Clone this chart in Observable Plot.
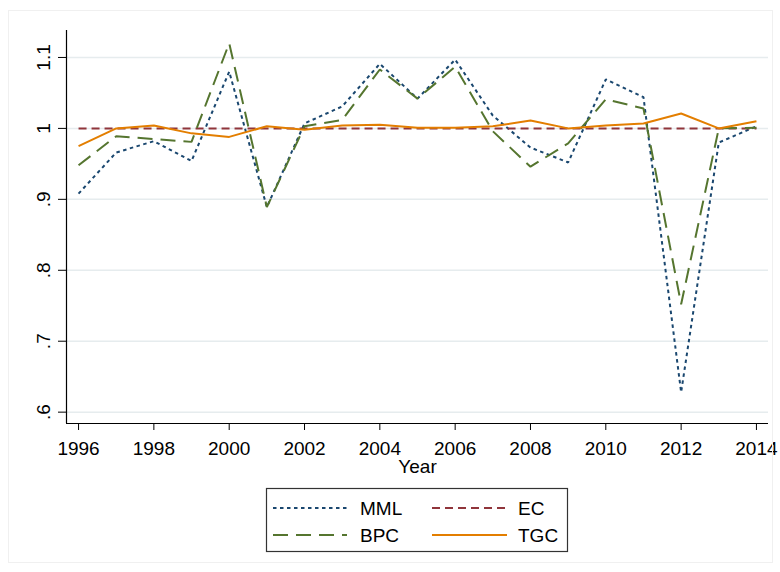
<!DOCTYPE html>
<html>
<head>
<meta charset="utf-8">
<script src="https://cdn.jsdelivr.net/npm/d3@7"></script>
<script src="https://cdn.jsdelivr.net/npm/@observablehq/plot@0.6"></script>
<style>
  body { margin: 0; background: #fff; font-family: "Liberation Sans", Arial, sans-serif; }
  #chart { position: relative; width: 780px; height: 572px; }
  #frame { position: absolute; left: 8px; top: 10px; width: 763px; height: 551px; border: 1px solid #f0f0f0; pointer-events: none; }
  #chart svg { display: block; }
</style>
</head>
<body>
<div id="chart"><div id="frame"></div></div>
<script>
// Annual indices, 1996–2014
const years = [1996, 1997, 1998, 1999, 2000, 2001, 2002, 2003, 2004, 2005, 2006, 2007, 2008, 2009, 2010, 2011, 2012, 2013, 2014];
const mml = [0.908, 0.966, 0.982, 0.954, 1.080, 0.889, 1.007, 1.031, 1.091, 1.042, 1.097, 1.018, 0.973, 0.952, 1.069, 1.044, 0.628, 0.980, 1.003];
const ec  = [1, 1, 1, 1, 1, 1, 1, 1, 1, 1, 1, 1, 1, 1, 1, 1, 1, 1, 1];
const bpc = [0.948, 0.989, 0.985, 0.981, 1.120, 0.889, 1.003, 1.012, 1.083, 1.042, 1.087, 0.996, 0.946, 0.979, 1.041, 1.028, 0.752, 1.000, 1.001];
const tgc = [0.975, 1.000, 1.004, 0.993, 0.988, 1.003, 0.998, 1.004, 1.005, 1.001, 1.001, 1.003, 1.011, 1.000, 1.004, 1.007, 1.021, 1.000, 1.010];

const seriesNames = ["MML", "EC", "BPC", "TGC"];
const seriesColors = ["#1a476f", "#90353b", "#55752f", "#e37e00"];
const seriesDashes = ["3.5,3.5", "8,5", "15,8", null];

const xTicks = [1996, 1998, 2000, 2002, 2004, 2006, 2008, 2010, 2012, 2014];
const yTicks = [0.6, 0.7, 0.8, 0.9, 1.0, 1.1];
const yTickLabels = [".6", ".7", ".8", ".9", "1", "1.1"];

const values = [mml, ec, bpc, tgc];
const rows = seriesNames.map((name, s) => years.map((yr, i) => ({year: yr, value: values[s][i], series: name})));

const font = '"Liberation Sans", Arial, sans-serif';

const lineMarks = rows.map((data, s) => Plot.line(data, {
  x: "year", y: "value",
  stroke: seriesColors[s], strokeWidth: 2,
  strokeDasharray: seriesDashes[s] ?? undefined,
  strokeLinejoin: "miter", strokeLinecap: "butt"
}));

const chart = Plot.plot({
  width: 780,
  height: 480,
  marginLeft: 66,
  marginRight: 12,
  marginTop: 30,
  marginBottom: 57,
  x: {domain: [1995.68, 2014.32]},
  y: {domain: [0.584, 1.138]},
  style: {fontFamily: font, fontSize: "19px", color: "#000", background: "transparent"},
  marks: [
    Plot.gridY(yTicks, {stroke: "#e6ecee", strokeOpacity: 1, strokeWidth: 1.5}),
    ...lineMarks,
    Plot.ruleX([1995.68], {stroke: "#000", strokeWidth: 1.2}),
    Plot.ruleY([0.584], {stroke: "#000", strokeWidth: 1.2}),
    Plot.axisY({ticks: yTicks, tickSize: 8, tickFormat: () => "", label: null, stroke: "#000"}),
    Plot.text(yTicks, {y: d => d, text: (d, i) => yTickLabels[i], frameAnchor: "left", textAnchor: "middle", lineAnchor: "middle", dx: -23, rotate: -90, fontSize: 19, fill: "#000"}),
    Plot.axisX({ticks: xTicks, tickSize: 7, tickPadding: 11, tickFormat: d => String(d), label: null, fontSize: 19, stroke: "#000", fill: "#000"}),
    Plot.text(["Year"], {frameAnchor: "bottom", lineAnchor: "middle", dy: 43, fontSize: 19, fill: "#000"})
  ]
});

document.getElementById("chart").appendChild(chart);

// Legend below the chart: MML / EC on the first row, BPC / TGC on the second
const legend = d3.create("svg").attr("width", 780).attr("height", 92)
  .style("font-family", font).style("font-size", "19px");
legend.append("rect").attr("x", 266.5).attr("y", 8.5).attr("width", 301).attr("height", 63)
  .attr("fill", "#fff").attr("stroke", "#333").attr("stroke-width", 1.2);

const slots = [
  {x0: 273, x1: 347, tx: 360, y: 28},
  {x0: 432, x1: 507, tx: 518, y: 28},
  {x0: 273, x1: 347, tx: 360, y: 55},
  {x0: 432, x1: 507, tx: 518, y: 55}
];
seriesNames.forEach((name, s) => {
  const slot = slots[s];
  legend.append("line")
    .attr("x1", slot.x0).attr("x2", slot.x1).attr("y1", slot.y).attr("y2", slot.y)
    .attr("stroke", seriesColors[s]).attr("stroke-width", 2)
    .attr("stroke-dasharray", seriesDashes[s]);
  legend.append("text").attr("x", slot.tx).attr("y", slot.y).attr("dy", "0.35em")
    .attr("fill", "#000").text(name);
});
document.getElementById("chart").appendChild(legend.node());
</script>
</body>
</html>
